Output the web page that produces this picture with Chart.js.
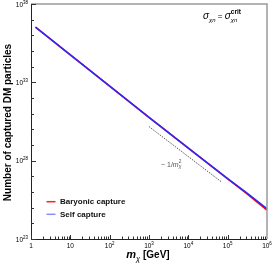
<!DOCTYPE html>
<html>
<head>
<meta charset="utf-8">
<script src="https://cdn.jsdelivr.net/npm/chart.js@4"></script>
<style>
  html, body { margin: 0; padding: 0; background: #fff; }
  canvas { display: block; }
</style>
</head>
<body>
<canvas id="chart" width="273" height="267"></canvas>
<script>
// values (log-log)
const masses = [1.3, 10, 100, 1e3, 1e4, 1e5, 3e5, 1e6];
const baryonic = [3.3e36, 5.7e34, 5.7e32, 5.7e30, 6.3e28, 6.9e26, 8.2e25, 7.0e24];
const selfCapture = [3.4e36, 5.75e34, 5.75e32, 5.75e30, 6.3e28, 7.1e26, 9.0e25, 8.6e24];
const slopeMass = [1e3, 6.8e4];
const slopeN = [1.5e30, 4.6e26];
const xTicks = [1, 10, 100, 1e3, 1e4, 1e5, 1e6];
const xTickLabels = [["1", ""], ["10", ""], ["10", "2"], ["10", "3"], ["10", "4"], ["10", "5"], ["10", "6"]];
const yTicks = [1e23, 1e28, 1e33, 1e38];
const yTickLabels = [["10", "23"], ["10", "28"], ["10", "33"], ["10", "38"]];

const FONT = '"Liberation Sans", Arial, sans-serif';

function toPoints(xs, ys) {
    return xs.map((x, i) => ({ x: x, y: ys[i] }));
}

// draw a row of text pieces, each with its own font and vertical shift
function drawRuns(ctx, x, y, parts, align) {
    let w = 0;
    parts.forEach(p => { ctx.font = p.font; p.w = ctx.measureText(p.t).width; if (p.adv !== undefined) p.w = p.adv; w += p.w; });
    let cx = align === "center" ? x - w / 2 : (align === "right" ? x - w : x);
    ctx.textAlign = "left";
    ctx.textBaseline = "alphabetic";
    parts.forEach(p => {
        ctx.font = p.font;
        ctx.fillStyle = p.color || "#000";
        ctx.fillText(p.t, cx, y + (p.dy || 0));
        cx += p.w;
    });
}

const decor = {
    id: "decor",
    afterDraw(chart) {
        const ctx = chart.ctx;
        const a = chart.chartArea;
        const xs = chart.scales.x;
        const ys = chart.scales.y;
        ctx.save();

        // frame: gray top/right, dark left/bottom
        ctx.strokeStyle = "#9a9a9a";
        ctx.lineWidth = 1.5;
        ctx.beginPath();
        ctx.moveTo(a.left, a.top);
        ctx.lineTo(a.right, a.top);
        ctx.lineTo(a.right, a.bottom);
        ctx.stroke();
        ctx.strokeStyle = "#222";
        ctx.lineWidth = 1;
        ctx.beginPath();
        ctx.moveTo(a.left + 0.5, a.top);
        ctx.lineTo(a.left + 0.5, a.bottom + 0.5);
        ctx.lineTo(a.right, a.bottom + 0.5);
        ctx.stroke();

        // inward ticks
        ctx.strokeStyle = "#333";
        ctx.lineWidth = 1;
        ctx.beginPath();
        for (let d = 0; d < 6; d++) {
            for (let k = 1; k < 10; k++) {
                const px = Math.round(xs.getPixelForValue(k * Math.pow(10, d))) + 0.5;
                const len = k === 1 ? 4 : 2.5;
                ctx.moveTo(px, a.bottom);
                ctx.lineTo(px, a.bottom - len);
            }
        }
        for (let e = 23; e <= 38; e++) {
            const py = Math.round(ys.getPixelForValue(Math.pow(10, e))) + 0.5;
            const len = (e - 23) % 5 === 0 ? 5 : 3;
            ctx.moveTo(a.left, py);
            ctx.lineTo(a.left + len, py);
        }
        ctx.stroke();

        // tick labels
        xTicks.forEach((v, i) => {
            const px = xs.getPixelForValue(v);
            const [b, s] = xTickLabels[i];
            ctx.font = "6.5px " + FONT;
            const bw = ctx.measureText(b).width;
            ctx.font = "4.5px " + FONT;
            const sw = s ? ctx.measureText(s).width : 0;
            drawRuns(ctx, px - (bw + sw) / 2, a.bottom + 8.5, [
                { t: b, font: "6.5px " + FONT },
                { t: s, font: "4.5px " + FONT, dy: -3 }
            ], "left");
        });
        yTicks.forEach((v, i) => {
            const py = ys.getPixelForValue(v);
            const [b, s] = yTickLabels[i];
            drawRuns(ctx, a.left - 3, py + 2.5, [
                { t: b, font: "6.5px " + FONT },
                { t: s, font: "4.5px " + FONT, dy: -3 }
            ], "right");
        });

        // axis titles
        ctx.save();
        ctx.translate(8, (a.top + a.bottom) / 2 + 1);
        ctx.rotate(-Math.PI / 2);
        ctx.font = "bold 10px " + FONT;
        ctx.fillStyle = "#000";
        ctx.textAlign = "center";
        ctx.textBaseline = "middle";
        ctx.fillText("Number of captured DM particles", 0, 0);
        ctx.restore();

        drawRuns(ctx, (a.left + a.right) / 2 - 1, 258, [
            { t: "m", font: "italic bold 11px " + FONT },
            { t: "\u03c7", font: "italic 7.5px " + FONT, dy: 2.5 },
            { t: " [GeV]", font: "bold 10px " + FONT }
        ], "center");

        // legend
        const legendY = [201.7, 214.3];
        const legendColors = ["#ff2020", "#8c8cff"];
        chart.data.datasets.slice(0, 2).forEach((ds, i) => {
            ctx.strokeStyle = legendColors[i];
            ctx.lineWidth = 1.5;
            ctx.beginPath();
            ctx.moveTo(46.5, legendY[i]);
            ctx.lineTo(55.5, legendY[i]);
            ctx.stroke();
            ctx.font = "bold 8px " + FONT;
            ctx.fillStyle = "#111";
            ctx.textAlign = "left";
            ctx.textBaseline = "middle";
            ctx.fillText(ds.label, 60, legendY[i] + 0.5);
        });

        // slope annotation
        const gray = "#555";
        drawRuns(ctx, 161, 166.5, [
            { t: "~ 1/", font: "7px " + FONT, color: gray },
            { t: "m", font: "italic 7px " + FONT, color: gray },
            { t: "2", font: "4.8px " + FONT, color: gray, dy: -3.5, adv: 0 },
            { t: "\u03c7", font: "italic 4.8px " + FONT, color: gray, dy: 1.5 }
        ], "left");

        // cross-section label
        drawRuns(ctx, 203, 19, [
            { t: "\u03c3", font: "italic 10px " + FONT },
            { t: "\u03c7n", font: "italic 6px " + FONT, dy: 2.5 },
            { t: " = ", font: "8px " + FONT },
            { t: "\u03c3", font: "italic 10px " + FONT },
            { t: "crit", font: "bold 6.5px " + FONT, dy: -5, adv: 0 },
            { t: "\u03c7n", font: "italic 6px " + FONT, dy: 2.5 }
        ], "left");

        ctx.restore();
    }
};

const chart = document.getElementById("chart");

new Chart(chart, {
    type: "line",
    data: {
        datasets: [{
            label: "Baryonic capture",
            data: toPoints(masses, baryonic),
            borderColor: "#ff0000",
            borderWidth: 1.6,
            pointRadius: 0,
            order: 2
        }, {
            label: "Self capture",
            data: toPoints(masses, selfCapture),
            borderColor: "#2a2aff",
            borderWidth: 1.6,
            pointRadius: 0,
            order: 1
        }, {
            label: "slope",
            data: toPoints(slopeMass, slopeN),
            borderColor: "#555",
            borderWidth: 1,
            borderDash: [1.5, 1.2],
            pointRadius: 0,
            order: 3
        }]
    },
    options: {
        responsive: false,
        animation: false,
        layout: { padding: { left: 31, top: 4, right: 6, bottom: 28 } },
        plugins: {
            legend: { display: false },
            tooltip: { enabled: false }
        },
        scales: {
            x: { type: "logarithmic", min: 1, max: 1e6, display: false },
            y: { type: "logarithmic", min: 1e23, max: 1e38, display: false }
        }
    },
    plugins: [decor]
});
</script>
</body>
</html>
